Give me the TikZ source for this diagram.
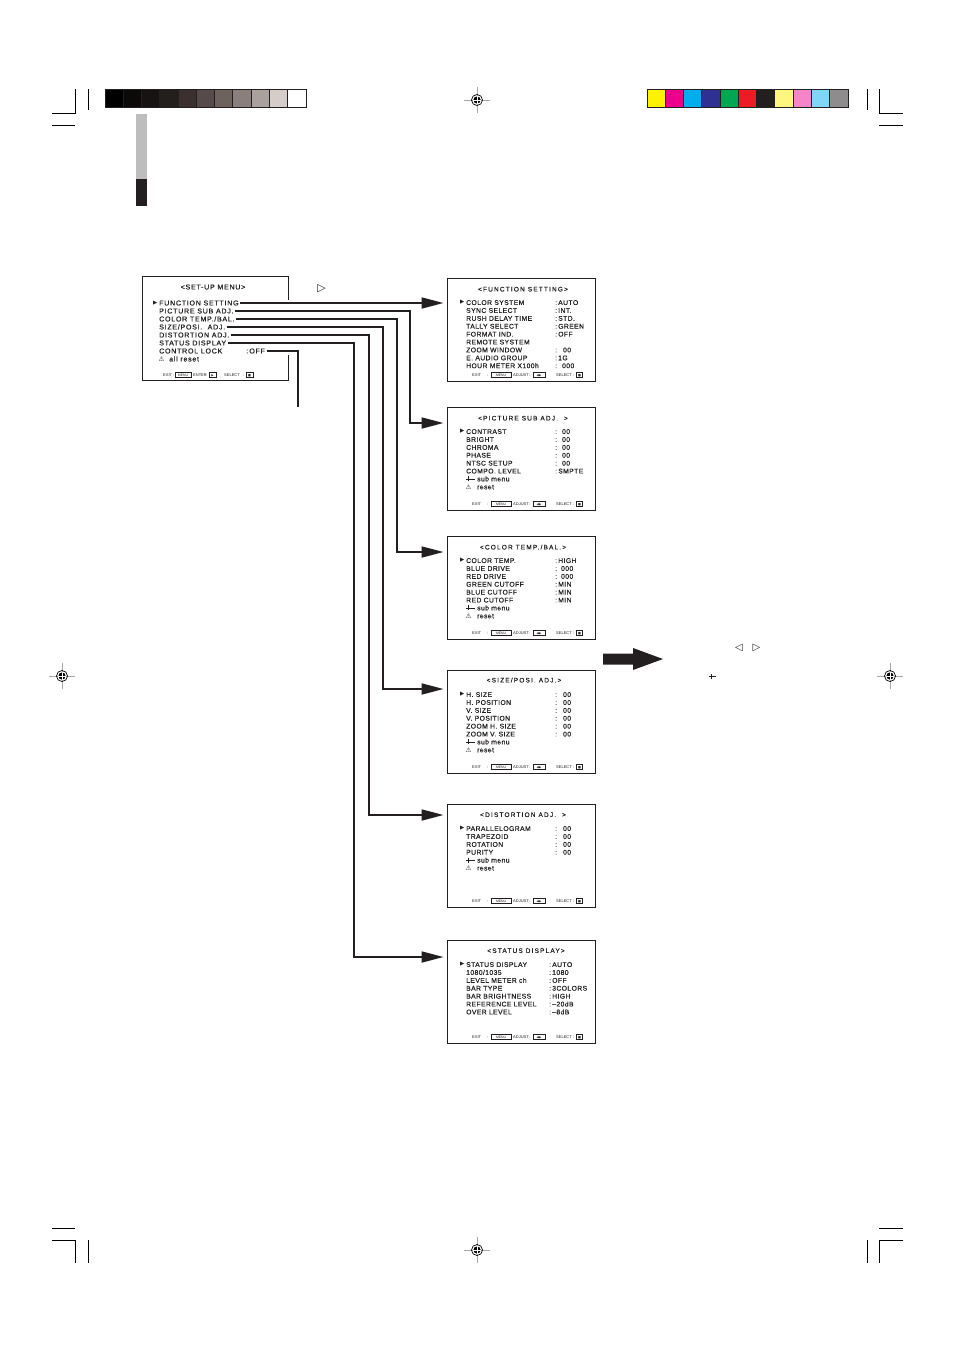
\documentclass[tikz,border=0pt]{standalone}
\usepackage{fontspec}
\setmainfont{Liberation Sans}
\newfontfamily\itemfnt[LetterSpace=6,FakeBold=0.3]{Liberation Sans}
\newfontfamily\setupfnt[LetterSpace=10,FakeBold=0.3]{Liberation Sans}
\newfontfamily\titlefnt[LetterSpace=18,FakeBold=0.3]{Liberation Sans}
\newfontfamily\sym{DejaVu Sans}
\usetikzlibrary{arrows.meta}
\definecolor{ink}{HTML}{231F20}
\definecolor{g0}{HTML}{000000}\definecolor{g1}{HTML}{0C0A09}\definecolor{g2}{HTML}{171312}
\definecolor{g3}{HTML}{231F1D}\definecolor{g4}{HTML}{3B302F}\definecolor{g5}{HTML}{564B4A}
\definecolor{g6}{HTML}{6E625F}\definecolor{g7}{HTML}{8B7F7D}\definecolor{g8}{HTML}{AAA09E}
\definecolor{g9}{HTML}{D6CDCB}\definecolor{g10}{HTML}{FFFFFF}
\definecolor{c0}{HTML}{FFF200}\definecolor{c1}{HTML}{EC008C}\definecolor{c2}{HTML}{00AEEF}
\definecolor{c3}{HTML}{2E3192}\definecolor{c4}{HTML}{00A651}\definecolor{c5}{HTML}{ED1C24}
\definecolor{c6}{HTML}{231F20}\definecolor{c7}{HTML}{FFF67F}\definecolor{c8}{HTML}{F584C8}
\definecolor{c9}{HTML}{7FD6F7}\definecolor{c10}{HTML}{8E8C8C}
\tikzset{
  txt/.style={anchor=west, inner sep=0pt, text height=4.9pt, text depth=0pt, text=ink,
    font={\itemfnt\fontsize{6.8}{7}\selectfont}},
  stxt/.style={txt, font={\setupfnt\fontsize{7.1}{8}\selectfont}},
  ttl/.style={txt, anchor=center, font={\titlefnt\fontsize{6.5}{7}\selectfont}},
  mk/.style={anchor=west, inner sep=0pt, text=ink, font={\sym\fontsize{5.5}{5}\selectfont}},
  glyph/.style={inner sep=0pt, text=ink},
  tinyt/.style={anchor=west, inner sep=0pt, text height=3pt, text depth=0pt, text=ink,
    font={\fontsize{4}{4}\selectfont}},
  kbox/.style={draw=ink, line width=0.7pt, inner sep=0.3pt, minimum height=5pt, text height=2.6pt,
    text depth=0pt, text=ink, font={\fontsize{3.4}{3.4}\selectfont}, anchor=center},
  menubox/.style={draw=ink, line width=1pt, minimum width=148pt, minimum height=103pt, inner sep=0pt},
  frame/.style={draw=ink, line width=1pt},
  conn/.style={draw=ink, line width=1.8pt, -{Triangle[length=22pt,width=11pt]}, shorten >=3pt},
  wire/.style={draw=ink, line width=1.8pt},
  backarrow/.style={draw=ink, line width=0.8pt},
  crop/.style={draw=black, line width=0.9pt},
}
\newcommand\sitem[6]{%
  \node[txt] (#1l#3) at (466,{#2+24.5+7.9*#3}) {#4};
  \node[txt] (#1v#3) at (#6,{#2+24.5+7.9*#3}) {#5};}
\newcommand\submenu[3]{% box, top, idx
  \coordinate (#1ar) at (466,{#2+24.5+7.9*#3});
  \draw[backarrow] (#1ar) -- ([xshift=9pt]#1ar) ([xshift=2pt,yshift=2.5pt]#1ar) -- ([xshift=2pt,yshift=-2.5pt]#1ar);
  \node[txt] (#1sm) at (477,{#2+24.5+7.9*#3}) {sub menu};
  \node[glyph, anchor=west, font={\sym\fontsize{6.5}{6}\selectfont}] (#1wn) at (465.5,{#2+24.5+7.9*(#3+1)}) {⚠};
  \node[txt] (#1rs) at (477,{#2+24.5+7.9*(#3+1)}) {reset};}
\newcommand\bline[2]{%
  \node[tinyt] (#1exit) at (472,#2) {EXIT};
  \node[tinyt] (#1ca) at (487,#2) {:};
  \node[kbox, minimum width=20pt] (#1menu) at (501,#2) {MENU};
  \node[tinyt] (#1adj) at (513,#2) {ADJUST};
  \node[tinyt] (#1cb) at (529,#2) {:};
  \node[kbox, minimum width=12pt] (#1lr) at (539,#2) {{\sym\fontsize{3}{3}\selectfont ◀▶}};
  \node[tinyt] (#1sel) at (556,#2) {SELECT};
  \node[tinyt] (#1cc) at (573,#2) {:};
  \node[kbox, minimum width=6pt] (#1st) at (579.5,#2) {{\sym\fontsize{3}{3}\selectfont ■}};}
\newcommand\regmark[3]{%
  \coordinate (#1) at (#2,#3);
  \draw[gray!70, line width=0.6pt] ([xshift=-13pt]#1) -- ([xshift=13pt]#1) ([yshift=-13pt]#1) -- ([yshift=13pt]#1);
  \draw[black, line width=0.7pt] (#1) circle (5.5pt);
  \fill[black] (#1) circle (3.6pt);
  \draw[white, line width=0.6pt] ([xshift=-3.6pt]#1) -- ([xshift=3.6pt]#1) ([yshift=-3.6pt]#1) -- ([yshift=3.6pt]#1);}
\begin{document}
\begin{tikzpicture}[x=1pt,y=-1pt]
\useasboundingbox (0,0) rectangle (954,1352);
\fill[white] (0,0) rectangle (954,1352);
% crop marks
\draw[crop] (75,89) -- (75,113) -- (52,113) (88,89) -- (88,110) (52,125) -- (75,125);
\draw[crop] (879,89) -- (879,113) -- (903,113) (867,89) -- (867,110) (879,125) -- (903,125);
\draw[crop] (52,1228) -- (75,1228) (52,1240) -- (75,1240) -- (75,1263) (88,1240) -- (88,1263);
\draw[crop] (879,1228) -- (903,1228) (903,1240) -- (879,1240) -- (879,1263) (867,1240) -- (867,1263);
% registration marks
\regmark{r1}{477}{100}
\regmark{r2}{62}{676}
\regmark{r3}{890}{676}
\regmark{r4}{477}{1250}
% grey and colour bars
\foreach \i in {0,...,10} {
  \filldraw[fill=g\i, draw=ink, line width=0.8pt] ({105+18.27*\i},89) rectangle ({105+18.27*(\i+1)},107);
  \filldraw[fill=c\i, draw=ink, line width=0.8pt] ({647+18.27*\i},89) rectangle ({647+18.27*(\i+1)},107);
}
\fill[black!26] (136,114) rectangle (147,179);
\fill[ink] (136,179) rectangle (147,206);
% set-up menu
\node[inner sep=0pt, minimum width=145pt, minimum height=103pt] (setup) at (215.5,328.5) {};
\draw[frame] ([yshift=-23pt]setup.north east) -- (setup.north east) -- (setup.north west)
  -- (setup.south west) -- (setup.south east) -- ([yshift=25pt]setup.south east);
\node[stxt, anchor=center] (setupt) at (213,287) {<SET-UP MENU>};
\node[mk] (m0k) at (153,303) {▶};
\node[stxt] (m0) at (159,303) {FUNCTION SETTING};
\node[stxt] (m1) at (159,311) {PICTURE SUB ADJ.};
\node[stxt] (m2) at (159,319) {COLOR TEMP./BAL.};
\node[stxt] (m3) at (159,327) {SIZE/POSI.\ \ ADJ.};
\node[stxt] (m4) at (159,335) {DISTORTION ADJ.};
\node[stxt] (m5) at (159,343) {STATUS DISPLAY};
\node[stxt] (m6) at (159,351) {CONTROL LOCK};
\node[stxt] (m6v) at (246,351) {:\,OFF};
\node[glyph, anchor=west, font={\sym\fontsize{6.5}{6}\selectfont}] (m7k) at (158.5,359) {⚠};
\node[stxt] (m7) at (169,359) {all reset};
\node[tinyt] (sexit) at (163,375) {EXIT};
\node[tinyt] (sca) at (173,375) {:};
\node[kbox, minimum width=16pt] (smenu) at (183,375) {MENU};
\node[tinyt] (sent) at (193,375) {ENTER};
\node[tinyt] (scb) at (205,375) {:};
\node[kbox, minimum width=7pt] (sen) at (212.5,375) {{\sym\fontsize{3}{3}\selectfont ▶}};
\node[tinyt] (ssel) at (224,375) {SELECT};
\node[tinyt] (scc) at (243,375) {:};
\node[kbox, minimum width=7pt] (sst) at (249.5,375) {{\sym\fontsize{3}{3}\selectfont ■}};
\node[glyph, font={\sym\fontsize{11}{11}\selectfont}] (tri1) at (321.5,288.5) {▷};
% FUNCTION SETTING
\node[menubox] (fs) at (521,329.5) {};
\node[ttl] (fst) at (523,289) {<FUNCTION SETTING>};
\node[mk] (fsk) at (460,302.5) {▶};
\sitem{fs}{278}{0}{COLOR SYSTEM}{:\,AUTO}{555}
\sitem{fs}{278}{1}{SYNC SELECT}{:\,INT.}{555}
\sitem{fs}{278}{2}{RUSH DELAY TIME}{:\,STD.}{555}
\sitem{fs}{278}{3}{TALLY SELECT}{:\,GREEN}{555}
\sitem{fs}{278}{4}{FORMAT IND.}{:\,OFF}{555}
\sitem{fs}{278}{5}{REMOTE SYSTEM}{}{555}
\sitem{fs}{278}{6}{ZOOM WINDOW}{:\hspace{6pt}00}{555}
\sitem{fs}{278}{7}{E. AUDIO GROUP}{:\,1G}{555}
\sitem{fs}{278}{8}{HOUR METER X100h}{:\hspace{5pt}000}{555}
\bline{fs}{375}
% PICTURE SUB ADJ.
\node[menubox] (ps) at (521,458.5) {};
\node[ttl] (pst) at (523,418) {<PICTURE SUB ADJ.\ \ >};
\node[mk] (psk) at (460,431.5) {▶};
\sitem{ps}{407}{0}{CONTRAST}{:\hspace{5pt}00}{555}
\sitem{ps}{407}{1}{BRIGHT}{:\hspace{5pt}00}{555}
\sitem{ps}{407}{2}{CHROMA}{:\hspace{5pt}00}{555}
\sitem{ps}{407}{3}{PHASE}{:\hspace{5pt}00}{555}
\sitem{ps}{407}{4}{NTSC SETUP}{:\hspace{5pt}00}{555}
\sitem{ps}{407}{5}{COMPO. LEVEL}{:\,SMPTE}{555}
\submenu{ps}{407}{6}
\bline{ps}{504}
% COLOR TEMP./BAL.
\node[menubox] (ct) at (521,587.5) {};
\node[ttl] (ctt) at (523,547) {<COLOR TEMP./BAL.\,>};
\node[mk] (ctk) at (460,560.5) {▶};
\sitem{ct}{536}{0}{COLOR TEMP.}{:\,HIGH}{555}
\sitem{ct}{536}{1}{BLUE DRIVE}{:\hspace{4pt}000}{555}
\sitem{ct}{536}{2}{RED DRIVE}{:\hspace{4pt}000}{555}
\sitem{ct}{536}{3}{GREEN CUTOFF}{:\,MIN}{555}
\sitem{ct}{536}{4}{BLUE CUTOFF}{:\,MIN}{555}
\sitem{ct}{536}{5}{RED CUTOFF}{:\,MIN}{555}
\submenu{ct}{536}{6}
\bline{ct}{633}
% SIZE/POSI. ADJ.
\node[menubox] (sp) at (521,721.5) {};
\node[ttl] (spt) at (524,680) {<SIZE/POSI. ADJ.\,>};
\node[mk] (spk) at (460,694.5) {▶};
\sitem{sp}{670}{0}{H. SIZE}{:\hspace{6pt}00}{555}
\sitem{sp}{670}{1}{H. POSITION}{:\hspace{6pt}00}{555}
\sitem{sp}{670}{2}{V. SIZE}{:\hspace{6pt}00}{555}
\sitem{sp}{670}{3}{V. POSITION}{:\hspace{6pt}00}{555}
\sitem{sp}{670}{4}{ZOOM H. SIZE}{:\hspace{6pt}00}{555}
\sitem{sp}{670}{5}{ZOOM V. SIZE}{:\hspace{6pt}00}{555}
\submenu{sp}{670}{6}
\bline{sp}{767}
% DISTORTION ADJ.
\node[menubox] (dj) at (521,855.5) {};
\node[ttl] (djt) at (523,814.5) {<DISTORTION ADJ.\ \ >};
\node[mk] (djk) at (460,828.5) {▶};
\sitem{dj}{804}{0}{PARALLELOGRAM}{:\hspace{6pt}00}{555}
\sitem{dj}{804}{1}{TRAPEZOID}{:\hspace{6pt}00}{555}
\sitem{dj}{804}{2}{ROTATION}{:\hspace{6pt}00}{555}
\sitem{dj}{804}{3}{PURITY}{:\hspace{6pt}00}{555}
\submenu{dj}{804}{4}
\bline{dj}{901}
% STATUS DISPLAY
\node[menubox] (sd) at (521,991.5) {};
\node[ttl] (sdt) at (526,950.5) {<STATUS DISPLAY>};
\node[mk] (sdk) at (460,964.5) {▶};
\sitem{sd}{940}{0}{STATUS DISPLAY}{:\,AUTO}{549}
\sitem{sd}{940}{1}{1080/1035}{:\,1080}{549}
\sitem{sd}{940}{2}{LEVEL METER ch}{:\,OFF}{549}
\sitem{sd}{940}{3}{BAR TYPE}{:\,3COLORS}{549}
\sitem{sd}{940}{4}{BAR BRIGHTNESS}{:\,HIGH}{549}
\sitem{sd}{940}{5}{REFERENCE LEVEL}{:\,–20dB}{549}
\sitem{sd}{940}{6}{OVER LEVEL}{:\,–8dB}{549}
\bline{sd}{1037}
% connectors
\coordinate (k1) at (410,423);
\coordinate (k2) at (397,552);
\coordinate (k3) at (383,689);
\coordinate (k4) at (369,815);
\coordinate (k5) at (354,957);
\coordinate (k6) at (298,407);
\draw[conn] ([xshift=1.5pt]m0.east) -- (m0.east -| fs.west);
\draw[conn] ([xshift=1.5pt]m1.east) -| (k1) -- (k1 -| ps.west);
\draw[conn] ([xshift=1.5pt]m2.east) -| (k2) -- (k2 -| ct.west);
\draw[conn] ([xshift=1.5pt]m3.east) -| (k3) -- (k3 -| sp.west);
\draw[conn] ([xshift=1.5pt]m4.east) -| (k4) -- (k4 -| dj.west);
\draw[conn] ([xshift=1.5pt]m5.east) -| (k5) -- (k5 -| sd.west);
\draw[wire] ([xshift=1.5pt]m6v.east) -| (k6);
% big arrow and symbols
\fill[ink] (603,653.5) -- (633,653.5) -- (633,648) -- (663,659) -- (633,670) -- (633,664.5) -- (603,664.5) -- cycle;
\node[glyph, font={\sym\fontsize{10}{10}\selectfont}] (lt) at (739,647.5) {◁};
\node[glyph, font={\sym\fontsize{10}{10}\selectfont}] (rt) at (756.5,647.5) {▷};
\coordinate (sa) at (709,676.5);
\draw[backarrow] (sa) -- ([xshift=7pt]sa) ([xshift=2pt,yshift=2.2pt]sa) -- ([xshift=2pt,yshift=-2.2pt]sa);
\end{tikzpicture}
\end{document}
